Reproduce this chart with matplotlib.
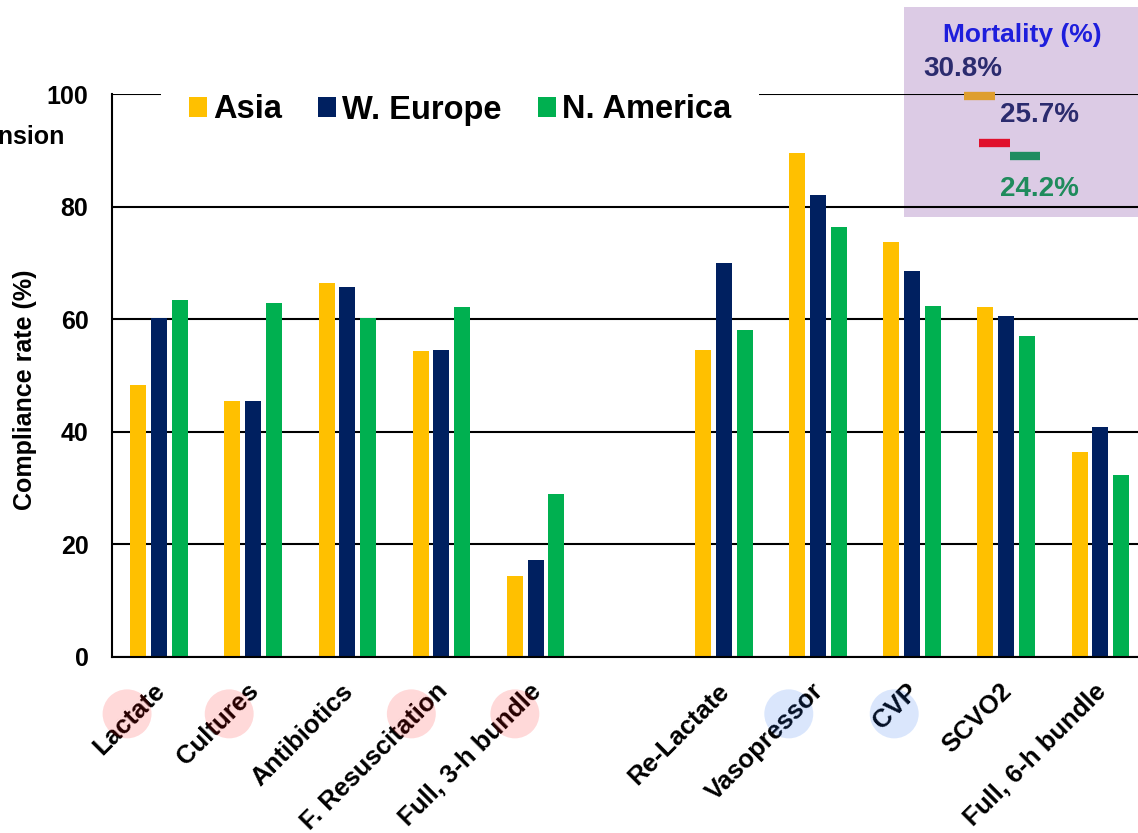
import numpy as np
import matplotlib
matplotlib.use("Agg")
import matplotlib.pyplot as plt
from matplotlib.patches import Rectangle, Ellipse
from matplotlib.transforms import ScaledTranslation, blended_transform_factory

plt.rcParams['font.family'] = ['Liberation Sans', 'DejaVu Sans']
plt.rcParams['font.weight'] = 'bold'

# compliance data
categories = ["Lactate", "Cultures", "Antibiotics", "F. Resuscitation", "Full, 3-h bundle",
              "Re-Lactate", "Vasopressor", "CVP", "SCVO2", "Full, 6-h bundle"]
asia      = [48.3, 45.5, 66.5, 54.4, 14.4, 54.5, 89.6, 73.7, 62.2, 36.5]
w_europe  = [60.3, 45.5, 65.7, 54.5, 17.2, 69.9, 82.0, 68.6, 60.5, 40.8]
n_america = [63.4, 62.8, 60.3, 62.2, 28.9, 58.0, 76.3, 62.3, 57.1, 32.4]
regions   = ["Asia", "W. Europe", "N. America"]

mortality = [30.8, 25.7, 24.2]
mort_title = "Mortality (%)"

hl_3h = ["Lactate", "Cultures", "F. Resuscitation", "Full, 3-h bundle"]
hl_6h = ["Vasopressor", "CVP"]

# layout
W, H = 1138, 833
slots = np.r_[0:5, 6:11]          # empty slot between the two bundles
bar_colors = ["#FFC000", "#002060", "#00B050"]
offsets = [-0.221, 0.0, 0.221]
circle_dx = {"Lactate": -0.34, "Cultures": -0.255, "F. Resuscitation": -0.32,
             "Full, 3-h bundle": -0.22, "Vasopressor": -0.31, "CVP": -0.19}

fig = plt.figure(figsize=(W / 100, H / 100), dpi=100)
ax = fig.add_axes([112 / W, 1 - 657 / H, 1026 / W, 563 / H])

for vals, c, off, name in zip([asia, w_europe, n_america], bar_colors, offsets, regions):
    ax.bar(slots + off, vals, width=0.17, color=c, linewidth=0, label=name, zorder=2)

# mortality panel background (under gridlines)
ax.add_patch(Rectangle((904 / W, 1 - 217 / H), 234 / W, 210 / H, transform=fig.transFigure,
                       facecolor="#DCCBE5", edgecolor="none", zorder=0.2, clip_on=False))

ax.set_xlim(-0.5, 10.4)
ax.set_ylim(0, 100)
ax.set_yticks([0, 20, 40, 60, 80, 100])
ax.yaxis.grid(True, color="black", linewidth=1.5)
ax.set_axisbelow(True)
for s in ["top", "right"]:
    ax.spines[s].set_visible(False)
for s in ["left", "bottom"]:
    ax.spines[s].set_linewidth(1.5)
    ax.spines[s].set_color("black")

ax.tick_params(axis="y", length=0, labelsize=18, pad=17)
ax.tick_params(axis="x", length=0, labelsize=18.5, pad=22)
ax.set_xticks(slots)
ax.set_xticklabels(categories, rotation=45, ha="right", va="center", rotation_mode="anchor")
for lbl in ax.get_xticklabels():
    lbl.set_transform(lbl.get_transform() + ScaledTranslation(1.5 / 72, 0, fig.dpi_scale_trans))

ax.set_ylabel("Compliance rate (%)", fontsize=18, fontweight="bold")
ax.yaxis.set_label_coords(-0.0731, 0.474)

# highlight circles over some category labels
trans = blended_transform_factory(ax.transData, ax.transAxes)
for cat in hl_3h + hl_6h:
    i = categories.index(cat)
    col = (1, 0, 0) if cat in hl_3h else (0.1, 0.4, 0.95)
    a = 0.15 if cat in hl_3h else 0.16
    ax.add_patch(Ellipse((slots[i] + circle_dx[cat], -0.101), 0.52, 49 / 563, transform=trans,
                         facecolor=col, alpha=a, edgecolor="none", zorder=3, clip_on=False))

ax.legend(loc="center", bbox_to_anchor=(460 / W, 1 - 110 / H), bbox_transform=fig.transFigure,
          ncol=3, frameon=True, facecolor="white", edgecolor="none", framealpha=1, fancybox=False,
          prop=dict(size=23.5, weight="bold"), handlelength=0.55, handleheight=0.55,
          handletextpad=0.2, columnspacing=1.1, borderpad=0.85, borderaxespad=0)

# cut-off text at left edge
fig.text(65 / W, 1 - 137 / H, "Hypotension", ha="right", va="center", fontsize=18)

# mortality mini panel
mx = fig.add_axes([904 / W, 1 - 217 / H, 234 / W, 210 / H])
mx.set_xlim(0, 234)
mx.set_ylim(17.57, 40.49)
mx.axis("off")
mx.patch.set_alpha(0)
dash_x = [(60, 91), (75, 106), (106, 136)]
dash_c = ["#DE9E2E", "#E0102C", "#1E8C60"]
for v, (x0, x1), c in zip(mortality, dash_x, dash_c):
    mx.plot([x0, x1], [v, v], color=c, linewidth=6, solid_capstyle="butt")

fig.text(1022.5 / W, 1 - 35 / H, mort_title, color="#1E1EDC", fontsize=19, ha="center", va="center")
txt_pos = [(923, 69), (1000, 114.5), (1000, 189.5)]
txt_col = ["#2B2B6E", "#2B2B6E", "#1F8B5C"]
for v, (px, py), c in zip(mortality, txt_pos, txt_col):
    fig.text(px / W, 1 - py / H, f"{v}%", color=c, fontsize=20, ha="left", va="center")

fig.savefig("out.png", dpi=100)
